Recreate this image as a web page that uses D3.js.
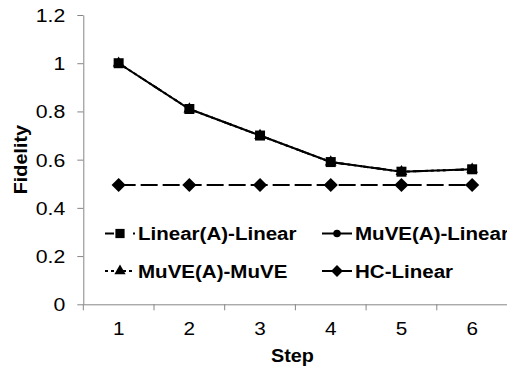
<!DOCTYPE html>
<html>
<head>
<meta charset="utf-8">
<script src="https://cdn.jsdelivr.net/npm/d3@7"></script>
<style>
  html, body { margin: 0; padding: 0; background: #fff; }
  svg { display: block; }
  text { font-family: "Liberation Sans", Arial, sans-serif; fill: #000; }
</style>
</head>
<body>
<svg id="chart" width="507" height="369"></svg>
<script>
// ---- data ----
const steps = ["1", "2", "3", "4", "5", "6"];
const yTicks = [0, 0.2, 0.4, 0.6, 0.8, 1, 1.2];
const seriesNames = ["Linear(A)-Linear", "MuVE(A)-Linear", "MuVE(A)-MuVE", "HC-Linear"];
const linearALinear = [1.0, 0.81, 0.70, 0.59, 0.55, 0.56];
const muveALinear   = [1.0, 0.81, 0.70, 0.59, 0.55, 0.56];
const muveAMuve     = [1.0, 0.81, 0.70, 0.59, 0.55, 0.56];
const hcLinear      = [0.495, 0.495, 0.495, 0.495, 0.495, 0.495];
const xTitle = "Step";
const yTitle = "Fidelity";

// ---- layout ----
const svg = d3.select("#chart");
const L = 83.3, R = 507.5, T = 15, B = 304.3;
const x = d3.scaleBand().domain(steps).range([L, R]);
const y = d3.scaleLinear().domain([0, 1.2]).range([B, T]);
const axisColor = "#868686";

function stretch(sel, k) {
  sel.each(function () {
    const w = this.getComputedTextLength();
    d3.select(this).attr("textLength", w * k).attr("lengthAdjust", "spacingAndGlyphs");
  });
}

// diamond symbol (square rotated)
const diamondType = {
  draw(ctx, size) {
    const r = Math.sqrt(size / 2);
    ctx.moveTo(0, -r); ctx.lineTo(r, 0); ctx.lineTo(0, r); ctx.lineTo(-r, 0); ctx.closePath();
  }
};

// ---- y axis ----
const yAxis = svg.append("g")
  .attr("transform", `translate(${L},0)`)
  .call(d3.axisLeft(y).tickValues(yTicks).tickFormat(d3.format("~g")).tickSize(6).tickSizeOuter(0).tickPadding(12));
yAxis.select(".domain").attr("stroke", axisColor);
yAxis.selectAll(".tick line").attr("stroke", axisColor);
yAxis.selectAll(".tick text")
  .attr("font-size", 18).attr("font-family", "Liberation Sans, Arial, sans-serif")
  .attr("fill", "#000").attr("dy", "0.36em").call(stretch, 1.18);

// ---- x axis ----
const xAxis = svg.append("g")
  .attr("transform", `translate(0,${B})`)
  .call(d3.axisBottom(x).tickSize(0).tickPadding(18));
xAxis.select(".domain").attr("stroke", axisColor);
xAxis.selectAll(".tick text")
  .attr("font-size", 18).attr("font-family", "Liberation Sans, Arial, sans-serif")
  .attr("fill", "#000").attr("dy", "0.71em").call(stretch, 1.15);
const bounds = steps.map(s => x(s)).concat([x(steps[steps.length - 1]) + x.bandwidth()]);
xAxis.selectAll("line.bnd").data(bounds).enter().append("line")
  .attr("class", "bnd")
  .attr("x1", d => d).attr("x2", d => d).attr("y1", 0).attr("y2", 6)
  .attr("stroke", axisColor);

// ---- axis titles ----
svg.append("text")
  .attr("x", (L + R) / 2 - 3).attr("y", 362)
  .attr("text-anchor", "middle").attr("font-size", 18).attr("font-weight", "bold")
  .text(xTitle).call(stretch, 1.1);
svg.append("text")
  .attr("transform", `translate(27,${(T + B) / 2 + 0})rotate(-90)`)
  .attr("text-anchor", "middle").attr("font-size", 18).attr("font-weight", "bold")
  .text(yTitle).call(stretch, 1.1);

// ---- series ----
const series = [
  { name: seriesNames[2], values: muveAMuve, dash: "3,3", symbol: d3.symbolTriangle, size: 60 },
  { name: seriesNames[1], values: muveALinear, dash: null, symbol: d3.symbolCircle, size: 50 },
  { name: seriesNames[0], values: linearALinear, dash: "9,19,2,10", symbol: d3.symbolSquare, size: 100 },
  { name: seriesNames[3], values: hcLinear, dash: "17,5", symbol: diamondType, size: 100 }
];
const cx = s => x(s) + x.bandwidth() / 2;
const line = d3.line().x((d, i) => cx(steps[i])).y(d => y(d));

series.forEach(s => {
  const g = svg.append("g");
  g.append("path").datum(s.values)
    .attr("d", line).attr("fill", "none").attr("stroke", "#000").attr("stroke-width", 2)
    .attr("stroke-dasharray", s.dash);
  g.selectAll("path.m").data(s.values).enter().append("path")
    .attr("class", "m")
    .attr("transform", (d, i) => `translate(${cx(steps[i])},${y(d)})`)
    .attr("d", d3.symbol().type(s.symbol).size(s.size)())
    .attr("fill", "#000");
});

// ---- legend ----
const legendItems = [
  { name: seriesNames[0], dash: "9,19,2,10", symbol: d3.symbolSquare, size: 85, x0: 105, y0: 233.5 },
  { name: seriesNames[1], dash: null, symbol: d3.symbolCircle, size: 45, x0: 322, y0: 233.5 },
  { name: seriesNames[2], dash: "3,3", symbol: d3.symbolTriangle, size: 55, x0: 105, y0: 271 },
  { name: seriesNames[3], dash: null, symbol: diamondType, size: 70, x0: 322, y0: 271 }
];
legendItems.forEach(it => {
  const g = svg.append("g").attr("transform", `translate(${it.x0},${it.y0})`);
  g.append("line").attr("x1", 0).attr("x2", 30).attr("y1", 0).attr("y2", 0)
    .attr("stroke", "#000").attr("stroke-width", 2).attr("stroke-dasharray", it.dash);
  g.append("path").attr("transform", "translate(15,0)")
    .attr("d", d3.symbol().type(it.symbol).size(it.size)()).attr("fill", "#000");
  g.append("text").attr("x", 33).attr("y", 6.5)
    .attr("font-size", 18).attr("font-weight", "bold")
    .text(it.name).call(stretch, 1.14);
});
</script>
</body>
</html>
